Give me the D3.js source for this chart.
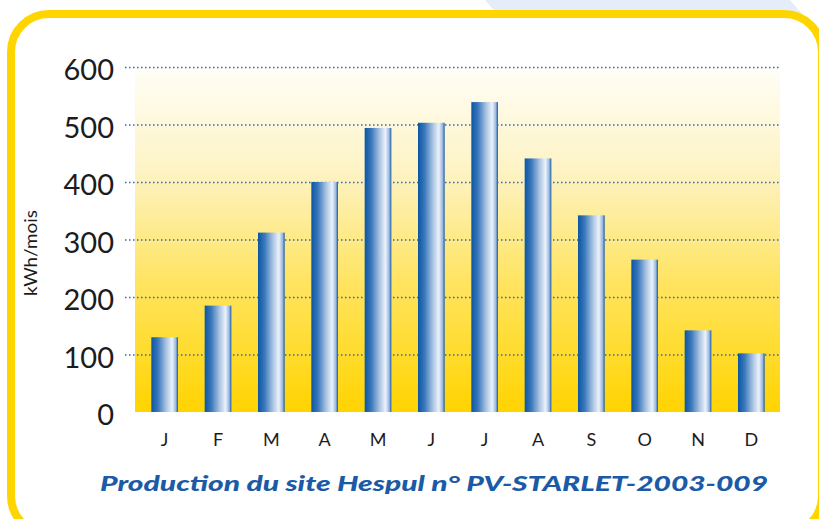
<!DOCTYPE html>
<html>
<head>
<meta charset="utf-8">
<script src="https://cdn.jsdelivr.net/npm/d3@7"></script>
<style>
  html, body { margin: 0; padding: 0; background: #fff; }
  svg { display: block; }
</style>
</head>
<body>
<div id="chart"></div>
<script>
// monthly production, kWh
var months = ["J", "F", "M", "A", "M", "J", "J", "A", "S", "O", "N", "D"];
var production = [130, 185, 312, 400, 494, 503, 539, 441, 342, 265, 142, 102];
var yTicks = [0, 100, 200, 300, 400, 500, 600];
var yLabel = "kWh/mois";
var title = "Production du site Hespul n° PV-STARLET-2003-009";

var width = 819,
	height = 519;

var svg = d3.select("#chart").append("svg")
	.attr("width", width)
	.attr("height", height);

var defs = svg.append("defs");

// yellow sky behind the bars
var bg = defs.append("linearGradient")
	.attr("id", "bgGrad")
	.attr("x1", 0).attr("y1", 0).attr("x2", 0).attr("y2", 1);
bg.append("stop").attr("offset", 0).attr("stop-color", "#fffef7");
bg.append("stop").attr("offset", 0.3).attr("stop-color", "#fdf3c4");
bg.append("stop").attr("offset", 0.62).attr("stop-color", "#ffe462");
bg.append("stop").attr("offset", 1).attr("stop-color", "#ffd400");

// cylinder look on the bars
var bar = defs.append("linearGradient")
	.attr("id", "barGrad")
	.attr("x1", 0).attr("y1", 0).attr("x2", 1).attr("y2", 0);
bar.append("stop").attr("offset", 0).attr("stop-color", "#0a56a4");
bar.append("stop").attr("offset", 0.25).attr("stop-color", "#3b78bb");
bar.append("stop").attr("offset", 0.55).attr("stop-color", "#a7c2e2");
bar.append("stop").attr("offset", 0.78).attr("stop-color", "#ecf2fa");
bar.append("stop").attr("offset", 0.92).attr("stop-color", "#9ab8de");
bar.append("stop").attr("offset", 1).attr("stop-color", "#1457a6");

// pale blue band at the top
svg.append("path")
	.attr("d", "M485,0 L790,0 L802,14 L497,14 Z")
	.attr("fill", "#e4edf8");

// yellow frame
svg.append("rect")
	.attr("x", 11).attr("y", 14)
	.attr("width", 811).attr("height", 520)
	.attr("rx", 38).attr("ry", 38)
	.attr("fill", "none")
	.attr("stroke", "#ffd500")
	.attr("stroke-width", 8);

var plot = {left: 135, right: 780, top: 67, bottom: 412};

var x = d3.scaleBand()
	.domain(d3.range(months.length))
	.range([138, 778])
	.paddingInner(0.5)
	.paddingOuter(0.25);

var y = d3.scaleLinear()
	.domain([0, 600])
	.range([plot.bottom, plot.top]);

svg.append("rect")
	.attr("x", plot.left)
	.attr("y", plot.top)
	.attr("width", plot.right - plot.left)
	.attr("height", plot.bottom - plot.top)
	.attr("fill", "url(#bgGrad)");

// dotted grid lines
svg.append("g")
	.selectAll("line")
	.data(yTicks.filter(function(d) { return d > 0; }))
	.enter().append("line")
	.attr("x1", 125)
	.attr("x2", plot.right)
	.attr("y1", function(d) { return y(d) + 0.5; })
	.attr("y2", function(d) { return y(d) + 0.5; })
	.attr("stroke", "#2e68b4")
	.attr("stroke-width", 1.3)
	.attr("stroke-dasharray", "1.5,2.5");

// y tick labels
svg.append("g")
	.selectAll("text")
	.data(yTicks)
	.enter().append("text")
	.attr("x", 114)
	.attr("y", function(d) { return y(d) + 13; })
	.attr("text-anchor", "end")
	.attr("font-family", "Lato, 'DejaVu Sans', sans-serif")
	.attr("font-size", 29)
	.attr("fill", "#1c1c1c")
	.text(function(d) { return d; });

svg.append("text")
	.attr("transform", "translate(37,253) rotate(-90)")
	.attr("text-anchor", "middle")
	.attr("font-family", "Lato, 'DejaVu Sans', sans-serif")
	.attr("font-size", 18)
	.attr("fill", "#1c1c1c")
	.attr("textLength", 86)
	.attr("lengthAdjust", "spacingAndGlyphs")
	.text(yLabel);

// bars
svg.append("g")
	.selectAll("rect")
	.data(production)
	.enter().append("rect")
	.attr("x", function(d, i) { return x(i); })
	.attr("y", function(d) { return y(d); })
	.attr("width", x.bandwidth())
	.attr("height", function(d) { return plot.bottom - y(d); })
	.attr("fill", "url(#barGrad)");

// month labels
svg.append("g")
	.selectAll("text")
	.data(months)
	.enter().append("text")
	.attr("x", function(d, i) { return x(i) + x.bandwidth() / 2; })
	.attr("y", 446)
	.attr("text-anchor", "middle")
	.attr("font-family", "Lato, 'DejaVu Sans', sans-serif")
	.attr("font-size", 18)
	.attr("fill", "#1c1c1c")
	.text(function(d) { return d; });

svg.append("text")
	.attr("x", 100)
	.attr("y", 491)
	.attr("font-family", "Lato, 'Open Sans', sans-serif")
	.attr("font-size", 21)
	.attr("font-weight", 900)
	.attr("font-style", "italic")
	.attr("fill", "#1a5aa6")
	.attr("textLength", 668)
	.attr("lengthAdjust", "spacingAndGlyphs")
	.text(title);
</script>
</body>
</html>
